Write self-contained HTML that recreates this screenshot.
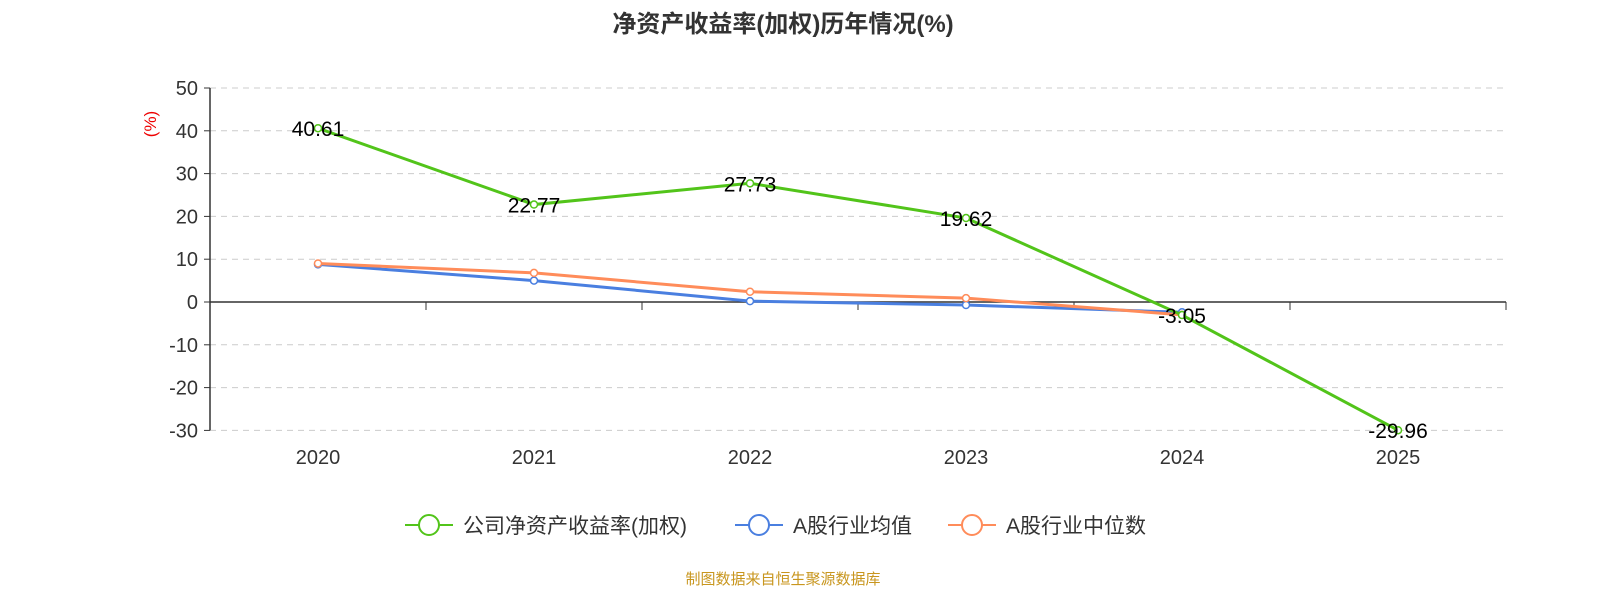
<!DOCTYPE html>
<html><head><meta charset="utf-8"><style>
body{margin:0;background:#fff;}
svg{display:block;font-family:"Liberation Sans","Noto Sans CJK SC",sans-serif;}
</style></head><body>
<svg id="c" width="1600" height="600">
<text x="783" y="32" text-anchor="middle" font-size="24" font-weight="bold" fill="#333">净资产收益率(加权)历年情况(%)</text>
<text transform="translate(156,124) rotate(-90)" text-anchor="middle" font-size="17" fill="#e00">(%)</text>
<g id="grid"></g><g id="axes"></g><g id="series"></g>
<g>
<g><line x1="405" y1="525" x2="453" y2="525" stroke="#52c41a" stroke-width="2"/><circle cx="429" cy="525" r="10" fill="#fff" stroke="#52c41a" stroke-width="2"/><text x="463" y="533" font-size="21" fill="#333">公司净资产收益率(加权)</text></g>
<g><line x1="735" y1="525" x2="783" y2="525" stroke="#4a7fe0" stroke-width="2"/><circle cx="759" cy="525" r="10" fill="#fff" stroke="#4a7fe0" stroke-width="2"/><text x="793" y="533" font-size="21" fill="#333">A股行业均值</text></g>
<g><line x1="948" y1="525" x2="996" y2="525" stroke="#ff8c5a" stroke-width="2"/><circle cx="972" cy="525" r="10" fill="#fff" stroke="#ff8c5a" stroke-width="2"/><text x="1006" y="533" font-size="21" fill="#333">A股行业中位数</text></g>
</g>
<text x="783" y="584" text-anchor="middle" font-size="15" fill="#c8961e">制图数据来自恒生聚源数据库</text>
</svg>
<script>
const categories=["2020","2021","2022","2023","2024","2025"];
const companyValues=[40.61,22.77,27.73,19.62,-3.05,-29.96];
const avgValues=[8.8,5.0,0.2,-0.7,-2.4];
const medianValues=[9.0,6.8,2.4,0.9,-3.0];
const yTicks=[50,40,30,20,10,0,-10,-20,-30];
const NS="http://www.w3.org/2000/svg";
const X0=210,X1=1506,band=(X1-X0)/categories.length;
function xs(i){return X0+band*(i+0.5);}
function ys(v){return 302-v*(214/50);}
function mk(p,t,a){const e=document.createElementNS(NS,t);for(const k in a)e.setAttribute(k,a[k]);p.appendChild(e);return e;}
const grid=document.getElementById('grid'),axes=document.getElementById('axes'),ser=document.getElementById('series');
yTicks.forEach(v=>{
 if(v!==0){const g=mk(grid,'line',{x1:X0,x2:X1,y1:ys(v),y2:ys(v),stroke:'#ccc','stroke-dasharray':'6,5'});
 
 }
 const tk=mk(axes,'line',{x1:X0-6,x2:X0,y1:ys(v),y2:ys(v),stroke:'#333'});
 
 
 const t=mk(axes,'text',{x:X0-12,y:ys(v)+7,'text-anchor':'end','font-size':20,fill:'#333'});t.textContent=v;
 
 
});
const ya=mk(axes,'line',{x1:X0,x2:X0,y1:ys(50),y2:ys(-30),stroke:'#333','stroke-width':1.5});


const xa=mk(axes,'line',{x1:X0,x2:X1,y1:ys(0),y2:ys(0),stroke:'#333','stroke-width':1.5});


categories.forEach((c,i)=>{
 const tk=mk(axes,'line',{x1:X0+band*(i+1),x2:X0+band*(i+1),y1:ys(0),y2:ys(0)+8,stroke:'#333'});
 
 
 const t=mk(axes,'text',{x:xs(i),y:464,'text-anchor':'middle','font-size':20,fill:'#333'});t.textContent=c;
 
 
});
function series(vals,color,name,labels){
 const g=mk(ser,'g',{});
 
 
 const pl=mk(g,'polyline',{points:vals.map((v,i)=>xs(i)+','+ys(v)).join(' '),fill:'none',stroke:color,'stroke-width':3});
 
 
 vals.forEach((v,i)=>{
  const c=mk(g,'circle',{cx:xs(i),cy:ys(v),r:3.5,fill:'#fff',stroke:color,'stroke-width':1.5});
  
  
  if(labels){const t=mk(g,'text',{x:xs(i),y:ys(v)+8,'text-anchor':'middle','font-size':21,fill:'#000'});t.textContent=v.toFixed(2);
  
  }
 });
}
series(avgValues,'#4a7fe0','average-series',false);
series(medianValues,'#ff8c5a','median-series',false);
series(companyValues,'#52c41a','company-series',true);
</script>
</body></html>
